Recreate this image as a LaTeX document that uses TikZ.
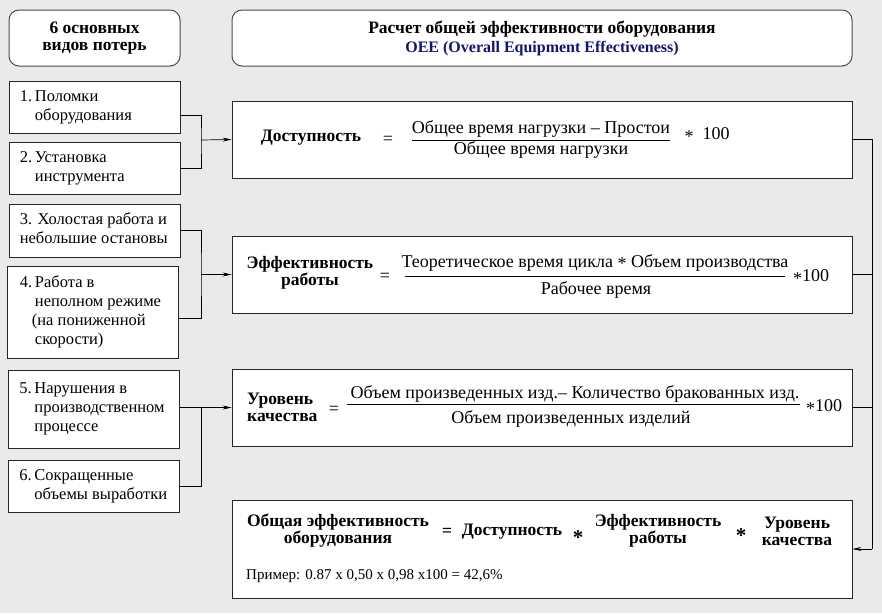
\documentclass[tikz,border=0pt]{standalone}
\usepackage{fontspec}
\setmainfont{Liberation Serif}
\newfontfamily\tms{Liberation Serif}
\usetikzlibrary{arrows.meta}
\definecolor{bg}{HTML}{EAEAEA}
\definecolor{navy}{HTML}{14146E}
\newcommand{\mult}{\raisebox{-0.25ex}{*}}
\begin{document}
\begin{tikzpicture}[x=1pt,y=-1pt,
  every node/.style={font=\tms\fontsize{16.5}{19}\selectfont},
  headbox/.style={draw=black!70, line width=1pt, rounded corners=10pt, fill=white, align=center, inner sep=0pt},
  lossbox/.style={draw=black!85, line width=0.8pt, fill=white, minimum width=171pt, inner sep=0pt},
  losstext/.style={anchor=west, inner sep=0pt, align=left, font=\tms\fontsize{16.5}{19}\selectfont},
  formbox/.style={draw=black!85, line width=0.8pt, fill=white, minimum width=620pt, inner sep=0pt},
  lbl/.style={font=\tms\bfseries\fontsize{17.5}{17}\selectfont, align=center, inner sep=0pt},
  txt/.style={font=\tms\fontsize{18}{19}\selectfont, inner sep=0pt},
  star/.style={font=\tms\bfseries\fontsize{21}{21}\selectfont, inner sep=0pt},
  fracline/.style={line width=0.7pt},
  link/.style={draw, line width=0.7pt},
  arr/.style={link, -{Stealth[length=9pt,width=4pt]}}]
\useasboundingbox[fill=bg] (0,0) rectangle (882,613);

% header boxes
\node[headbox, minimum width=171pt, minimum height=56pt, font=\tms\bfseries\fontsize{17.5}{17}\selectfont] (h1) at (94.5,38) {6 основных\\видов потерь};
\node[headbox, minimum width=620pt, minimum height=56pt] (h2) at (542,38) {{\tms\bfseries\fontsize{17.5}{21}\selectfont Расчет общей эффективности оборудования}\\{\tms\bfseries\fontsize{16}{15}\selectfont\color{navy}OEE (Overall Equipment Effectiveness)}};

% loss boxes
\node[lossbox, minimum height=52pt] (b1) at (94.5,107) {};
\node[lossbox, minimum height=52pt] (b2) at (94.5,168) {};
\node[lossbox, minimum height=53pt] (b3) at (94.5,230.5) {};
\node[lossbox, minimum height=92pt] (b4) at (92.5,312) {};
\node[lossbox, minimum height=78pt] (b5) at (94,409) {};
\node[lossbox, minimum height=52pt] (b6) at (94,486) {};
\node[losstext] (t1) at ([xshift=11pt]b1.west) {\begin{tabular}{@{}l@{\,}l@{}}1.&Поломки\\&оборудования\end{tabular}};
\node[losstext] (t2) at ([xshift=11pt]b2.west) {\begin{tabular}{@{}l@{\,}l@{}}2.&Установка\\&инструмента\end{tabular}};
\node[losstext] (t3) at ([xshift=11pt]b3.west) {\begin{tabular}{@{}l@{}}3. Холостая работа и\\небольшие остановы\end{tabular}};
\node[losstext] (t4) at ([xshift=13pt]b4.west) {\begin{tabular}{@{}l@{\,}l@{}}4.&Работа в\\&неполном режиме\\&\hspace*{-3pt}(на пониженной\\&скорости)\end{tabular}};
\node[losstext] (t5) at ([xshift=11pt]b5.west) {\begin{tabular}{@{}l@{\,}l@{}}5.&Нарушения в\\&производственном\\&процессе\end{tabular}};
\node[losstext] (t6) at ([xshift=11pt]b6.west) {\begin{tabular}{@{}l@{\,}l@{}}6.&Сокращенные\\&объемы выработки\end{tabular}};

% formula boxes
\node[formbox, minimum height=77pt] (d) at (542,139.5) {};
\node[formbox, minimum height=77pt] (e) at (542,274.5) {};
\node[formbox, minimum height=77pt] (q) at (542,407.5) {};
\node[formbox, minimum height=98pt] (o) at (542,549) {};

% Availability
\node[lbl] (dl) at (311,138) {Доступность};
\node[txt] (deq) at (388,140) {=};
\node[txt] (dn) at (541,129) {Общее время нагрузки – Простои};
\node[txt] (dd) at (541,150) {Общее время нагрузки};
\draw[fracline] (412,140) -- (670,140);
\node[txt] (dm) at (707,135) {\mult\ \ 100};

% Performance
\node[lbl] (el) at (310,272.5) {Эффективность\\работы};
\node[txt] (eeq) at (385,277) {=};
\node[txt] (en) at (595,263) {Теоретическое время цикла \mult\ Объем производства};
\node[txt] (ed) at (596,290) {Рабочее время};
\draw[fracline] (405,276) -- (785,276);
\node[txt] (em) at (811,277) {\mult100};

% Quality
\node[lbl, align=left, anchor=west] (ql) at (247,407) {Уровень\\качества};
\node[txt] (qeq) at (334,410) {=};
\node[txt] (qn) at (575,394) {Объем произведенных изд.– Количество бракованных изд.};
\node[txt] (qd) at (571,419) {Объем произведенных изделий};
\draw[fracline] (347,404) -- (800,404);
\node[txt] (qm) at (824,407) {\mult100};

% OEE
\node[lbl] (ol) at (338,531) {Общая эффективность\\оборудования};
\node[lbl] (oeq) at (447,532) {=};
\node[lbl] (oa) at (512,532) {Доступность};
\node[star] (ox1) at (578,538) {*};
\node[lbl] (op) at (658,531) {Эффективность\\работы};
\node[star] (ox2) at (741,536) {*};
\node[lbl] (oq) at (797,531) {Уровень\\качества};
\node[font=\tms\fontsize{15}{15}\selectfont, inner sep=0pt, anchor=west] (oex) at (246,576) {Пример: 0.87 x 0,50 x 0,98 x100 = 42,6\%};

% connectors left
\coordinate (j1) at (201,140);
\coordinate (j2) at (201,274.5);
\coordinate (j3) at (201,407.5);
\draw[link] ([yshift=-8pt]b1.east) -| (j1) |- (b2.east);
\draw[arr] (j1) -- (d.west);
\draw[link] (b3.east) -| (j2) |- ([yshift=-6pt]b4.east);
\draw[arr] (j2) -- (e.west);
\draw[arr] (b5.east |- j3) -- (q.west);
\draw[link] (b6.east) -| (j3);

% connectors right
\coordinate (rt) at (872,549);
\draw[link] (d.east) -| (rt);
\draw[link] (e.east) -- (e.east -| rt);
\draw[link] (q.east) -- (q.east -| rt);
\draw[arr] (rt) -- (o.east);
\end{tikzpicture}
\end{document}
